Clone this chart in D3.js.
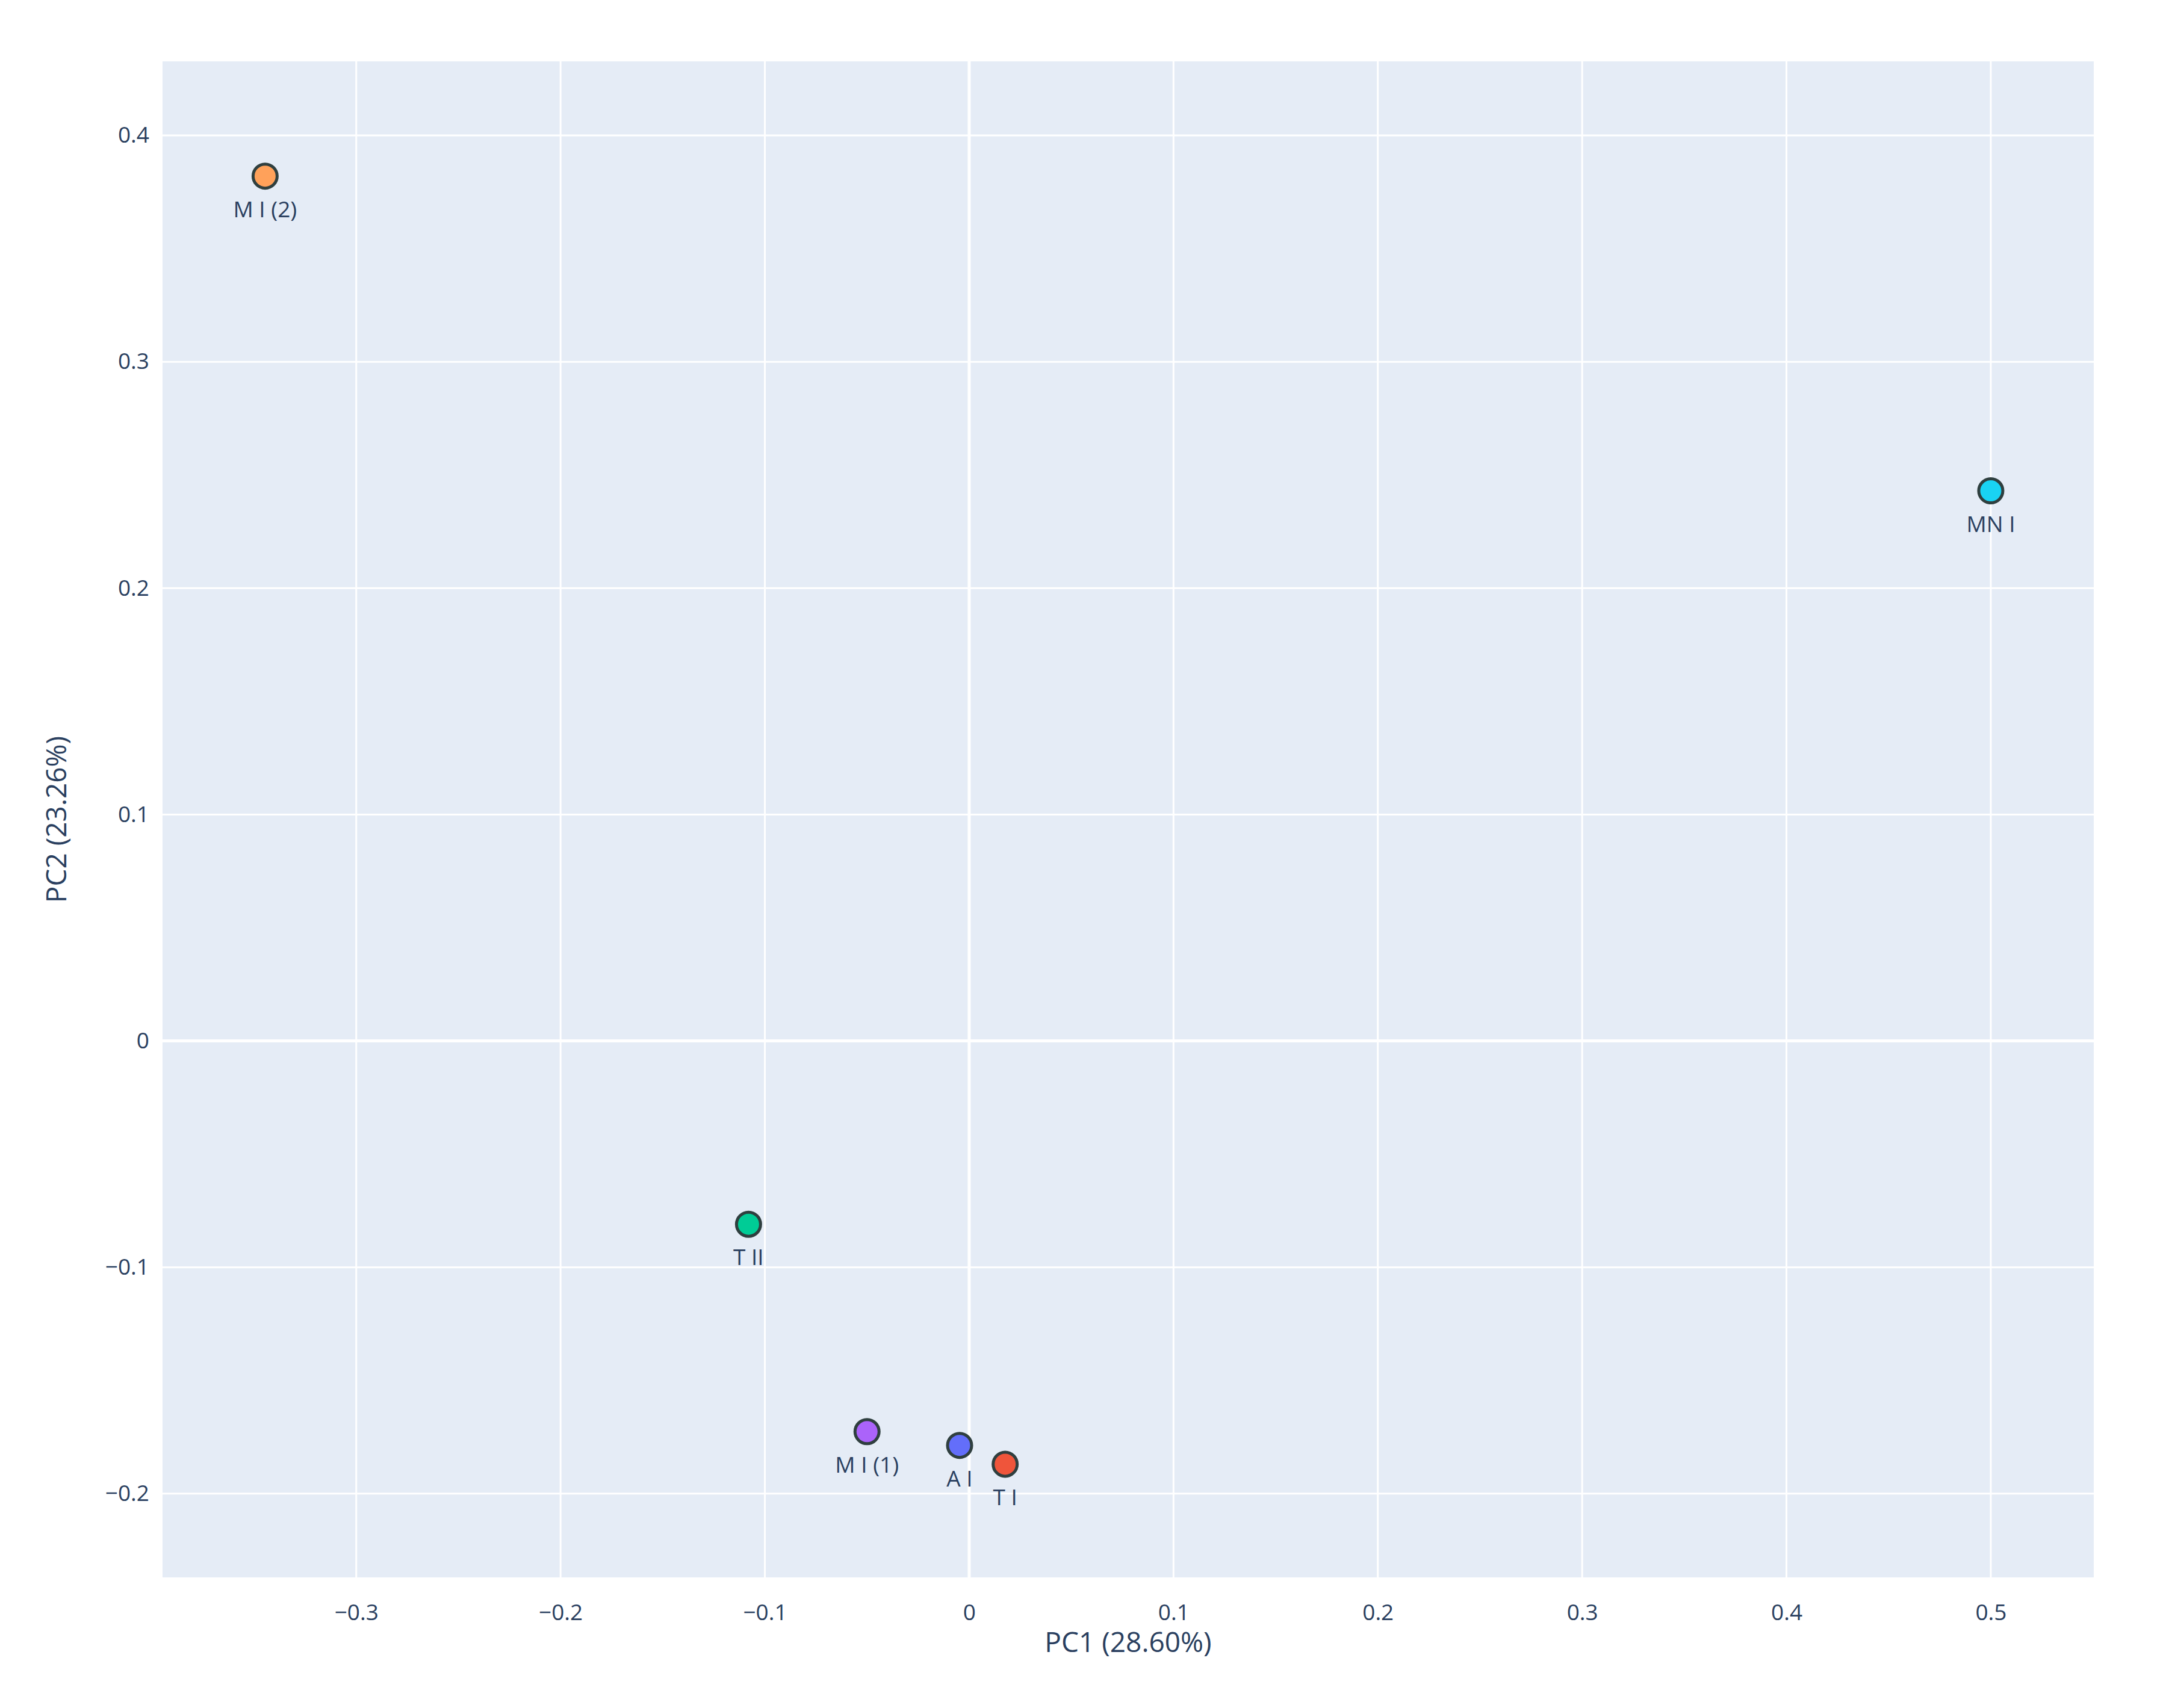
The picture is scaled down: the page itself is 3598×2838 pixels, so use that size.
<!DOCTYPE html>
<html><head><meta charset="utf-8">
<script src="https://cdn.jsdelivr.net/npm/d3@7"></script>
<style>body{margin:0;background:#fff}text{font-family:"Open Sans","Liberation Sans",sans-serif;fill:#2a3f5f}</style>
</head><body>
<script>
// Sample names, PCA coordinates and colours
const names = ["M I (2)", "MN I", "T II", "M I (1)", "A I", "T I"];
const pc1 = [-0.3446, 0.5, -0.108, -0.050, -0.0047, 0.0176];
const pc2 = [0.382, 0.243, -0.081, -0.1726, -0.1787, -0.187];
const colors = ["#FFA15A", "#19d3f3", "#00cc96", "#ab63fa", "#636efa", "#EF553B"];
const xTicks = [-0.3, -0.2, -0.1, 0, 0.1, 0.2, 0.3, 0.4, 0.5];
const yTicks = [-0.2, -0.1, 0, 0.1, 0.2, 0.3, 0.4];

const W = 3598, H = 2838;
const plotLeft = 270, plotRight = 3478, plotTop = 102, plotBottom = 2621;
let svg = d3.select("body").append("svg").attr("width", W).attr("height", H);
let x = d3.scaleLinear().domain([-0.3948, 0.5504]).range([plotLeft, plotRight]);
let y = d3.scaleLinear().domain([-0.237, 0.4327]).range([plotBottom, plotTop]);
// Plot background
svg.append("rect").attr("x", plotLeft).attr("y", plotTop).attr("width", plotRight - plotLeft).attr("height", plotBottom - plotTop).attr("fill", "#e5ecf6");
// Grid lines
svg.selectAll("line.gx").data(xTicks).join("line").attr("x1", d => x(d)).attr("x2", d => x(d))
	.attr("y1", plotTop).attr("y2", plotBottom).attr("stroke", "#fff").attr("stroke-width", d => d == 0 ? 5 : 3);
svg.selectAll("line.gy").data(yTicks).join("line").attr("y1", d => y(d)).attr("y2", d => y(d))
	.attr("x1", plotLeft).attr("x2", plotRight).attr("stroke", "#fff").attr("stroke-width", d => d == 0 ? 5 : 3);
// Axes (ticks only as labels)
let fmt = d => d == 0 ? "0" : d3.format(".1f")(d).replace("-", "\u2212");
let gx = svg.append("g").attr("transform", `translate(0,${plotBottom})`).call(d3.axisBottom(x).tickValues(xTicks).tickFormat(fmt).tickSize(0).tickPadding(45));
let gy = svg.append("g").attr("transform", `translate(${plotLeft},0)`).call(d3.axisLeft(y).tickValues(yTicks).tickFormat(fmt).tickSize(0).tickPadding(22));
for (let g of [gx, gy]) {
	g.select(".domain").remove();
	g.selectAll("text").attr("font-size", 37).style("fill", "#2a3f5f");
}
// Axis titles
svg.append("text").attr("x", (plotLeft + plotRight) / 2).attr("y", 2745).attr("text-anchor", "middle").attr("font-size", 46).text("PC1 (28.60%)");
svg.append("text").attr("transform", `translate(110,${(plotTop + plotBottom) / 2}) rotate(-90)`).attr("text-anchor", "middle").attr("font-size", 46).text("PC2 (23.26%)");
// Points and labels
let pts = names.map((n, i) => ({ n: n, x: pc1[i], y: pc2[i], c: colors[i] }));
svg.selectAll("circle.p").data(pts).join("circle").attr("cx", d => x(d.x)).attr("cy", d => y(d.y)).attr("r", 20)
	.attr("fill", d => d.c).attr("stroke", "#2f3f3f").attr("stroke-width", 5);
svg.selectAll("text.l").data(pts).join("text").attr("x", d => x(d.x)).attr("y", d => y(d.y) + 68)
	.attr("text-anchor", "middle").attr("font-size", 37).text(d => d.n);
</script>
</body></html>
